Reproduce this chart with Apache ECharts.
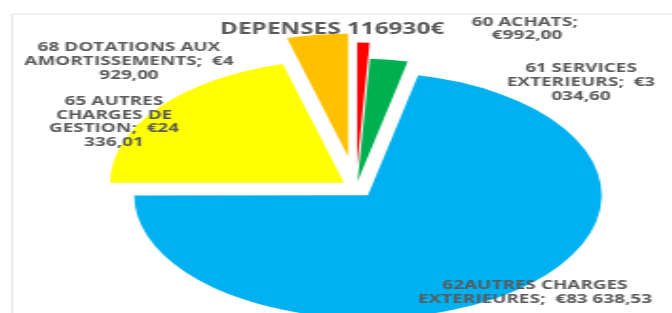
<!DOCTYPE html>
<html>
<head>
<meta charset="utf-8">
<script src="https://cdn.jsdelivr.net/npm/echarts@6/dist/echarts.min.js"></script>
<style>
html,body{margin:0;padding:0;background:#fff;}
#wrap{width:672px;height:313px;overflow:hidden;position:relative;background:#fff;}
#main{height:313px;transform-origin:0 0;position:absolute;left:0;top:0;}
</style>
</head>
<body>
<div id="wrap"><div id="main"></div></div>
<script>
// ---- data ----
const categories = ['60 ACHATS', '61 SERVICES EXTERIEURS', '62AUTRES CHARGES EXTERIEURES', '65 AUTRES CHARGES DE GESTION', '68 DOTATIONS AUX AMORTISSEMENTS'];
const values = [992.00, 3034.60, 83638.53, 24336.01, 4929.00];
const titleText = 'DEPENSES 116930€';

// ---- layout / style ----
const S = 1.9;                 // horizontal stretch of the picture
const W = 672 / S, H = 313;
const CX = 356, CY = 187.5, R = 123;
const colors = ['#FF0000', '#00B050', '#00B0F0', '#FFFF00', '#FFC000'];
const explode = [22, 6, 10, 8, 31];
const labelPos = [[527, 29], [581, 82.5], [535, 292.5], [114, 122], [129, 61.5]];
const wrapWords = [[2, 1], [2, 2, 1], [2, 3], [2, 2, 2, 1], [3, 2, 1]];
const FONT = "'Open Sans', sans-serif";
const TEXT_COLOR = '#595959';
const TEXT_SX = 0.83, TITLE_SX = 0.80;

function fmtEuro(v) {
  const parts = v.toFixed(2).split('.');
  const intPart = parts[0].replace(/\B(?=(\d{3})+(?!\d))/g, ' ');
  return '€' + intPart + ',' + parts[1];
}
function labelText(i) {
  const words = (categories[i] + ';\u00a0 ' + fmtEuro(values[i])).split(' ');
  const lines = [];
  let k = 0;
  wrapWords[i].forEach(n => { lines.push(words.slice(k, k + n).join(' ')); k += n; });
  return lines.join('\n');
}

const main = document.getElementById('main');
main.style.width = W + 'px';
main.style.transform = 'scaleX(' + S + ')';
const chart = echarts.init(main, null, { renderer: 'canvas' });

// one pie series per explosion distance (slices of other groups are transparent)
const groups = {};
explode.forEach((d, i) => { (groups[d] = groups[d] || []).push(i); });

const series = Object.keys(groups).map(key => {
  const idxs = groups[key];
  return {
    type: 'pie',
    silent: true,
    animation: false,
    startAngle: 90,
    clockwise: true,
    center: [CX / S, CY],
    radius: [0, R],
    selectedMode: 'multiple',
    selectedOffset: Number(key),
    itemStyle: { borderWidth: 0 },
    select: { itemStyle: { borderWidth: 0 } },
    label: { show: false },
    labelLine: { show: false },
    data: categories.map((n, i) => ({
      name: n,
      value: values[i],
      selected: true,
      itemStyle: { color: idxs.includes(i) ? colors[i] : 'rgba(0,0,0,0)' }
    }))
  };
});

const texts = categories.map((n, i) => ({
  type: 'text',
  silent: true,
  z: 100,
  x: labelPos[i][0] / S,
  y: labelPos[i][1],
  scaleX: TEXT_SX,
  style: {
    text: labelText(i),
    align: 'center',
    verticalAlign: 'middle',
    fontFamily: FONT,
    fontSize: 12,
    fontWeight: 'bold',
    lineHeight: 13.7,
    fill: TEXT_COLOR
  }
}));

chart.setOption({
  backgroundColor: '#ffffff',
  graphic: [{
    type: 'rect',
    silent: true,
    z: -10,
    shape: { x: 12 / S, y: 14, width: W + 20, height: H + 20 },
    style: { fill: 'none', stroke: '#e3e3e3', lineWidth: 1 }
  }, {
    type: 'text',
    silent: true,
    z: 100,
    x: 332 / S,
    y: 29,
    scaleX: TITLE_SX,
    style: {
      text: titleText,
      align: 'center',
      verticalAlign: 'middle',
      fontFamily: FONT,
      fontSize: 16,
      fontWeight: 'bold',
      fill: TEXT_COLOR
    }
  }].concat(texts),
  series: series
});
</script>
</body>
</html>
